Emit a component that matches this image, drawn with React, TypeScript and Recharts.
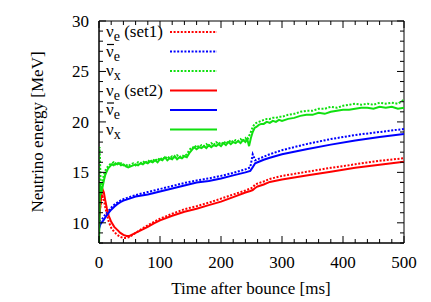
import { LineChart, Line, XAxis, YAxis, ReferenceArea, Legend } from "recharts";

// time grid (ms) for the smooth nu_e / anti-nu_e curves
const T_SMOOTH = [
  0, 2, 4, 6, 8, 10, 13, 16, 20, 25,
  30, 35, 40, 45, 50, 55, 60, 70, 80, 90,
  100, 120, 140, 160, 180, 200, 220, 240, 248, 252,
  256, 260, 270, 280, 300, 340, 380, 420, 460, 500,
];

const NUE_SET1 = [
  10.4, 11.5, 12.3, 12.6, 12.3, 11.6, 10.8, 10.1, 9.5, 9.1,
  8.8, 8.6, 8.5, 8.5, 8.6, 8.8, 9.0, 9.4, 9.75, 10.1,
  10.4, 10.9, 11.35, 11.65, 12.0, 12.4, 12.8, 13.2, 13.4, 13.5,
  13.8, 13.9, 14.1, 14.35, 14.65, 15.05, 15.45, 15.8, 16.15, 16.4,
];
const NUE_SET2 = [
  10.0, 11.6, 12.8, 13.3, 13.0, 12.3, 11.4, 10.7, 10.1, 9.6,
  9.3, 9.0, 8.8, 8.7, 8.7, 8.85, 9.0, 9.3, 9.6, 9.95,
  10.25, 10.7, 11.1, 11.4, 11.75, 12.1, 12.55, 13.0, 13.15, 13.25,
  13.45, 13.6, 13.8, 14.05, 14.3, 14.7, 15.05, 15.45, 15.75, 16.05,
];
const NUEBAR_SET1 = [
  10.2, 10.2, 10.3, 10.45, 10.6, 10.8, 11.0, 11.2, 11.5, 11.8,
  12.0, 12.2, 12.35, 12.45, 12.55, 12.65, 12.75, 12.9, 13.05, 13.2,
  13.35, 13.65, 13.95, 14.2, 14.4, 14.65, 14.95, 15.3, 15.5, 16.8,
  16.2, 16.3, 16.55, 16.8, 17.2, 17.8, 18.3, 18.7, 19.0, 19.3,
];
const NUEBAR_SET2 = [
  9.4, 9.8, 10.0, 10.15, 10.3, 10.5, 10.75, 11.0, 11.3, 11.6,
  11.85, 12.05, 12.2, 12.3, 12.4, 12.5, 12.6, 12.7, 12.8, 12.95,
  13.1, 13.4, 13.7, 14.0, 14.15, 14.4, 14.7, 15.0, 15.15, 15.5,
  15.9, 16.0, 16.25, 16.45, 16.8, 17.3, 17.75, 18.15, 18.5, 18.8,
];

// finer grid for the noisy nu_x curves
const T_NUX = [
  0, 1, 2, 3, 4, 6, 8, 10, 12, 15,
  18, 21, 24, 27, 30, 33, 36, 40, 44, 48,
  52, 56, 60, 64, 68, 72, 76, 80, 84, 88,
  92, 96, 100, 104, 108, 112, 116, 120, 124, 128,
  132, 136, 140, 144, 148, 152, 156, 160, 164, 168,
  172, 176, 180, 184, 188, 192, 196, 200, 204, 208,
  212, 216, 220, 224, 228, 232, 236, 240, 243, 246,
  249, 252, 255, 258, 262, 266, 270, 275, 280, 285,
  290, 295, 300, 310, 320, 330, 340, 350, 360, 370,
  380, 390, 400, 410, 420, 430, 440, 450, 460, 470,
  480, 490, 500,
];
const NUX_SET1 = [
  8.5, 17.5, 15.5, 13.0, 13.5, 14.2, 14.8, 15.1, 15.4, 15.6,
  15.8, 15.9, 16.0, 15.8, 16.0, 15.8, 15.9, 15.7, 15.8, 15.6,
  15.8, 15.9, 15.7, 16.0, 15.9, 16.1, 15.9, 16.2, 16.0, 16.3,
  16.1, 16.4, 16.2, 16.5, 16.3, 16.6, 16.4, 16.6, 16.5, 16.7,
  16.5, 16.7, 16.6, 16.8, 17.2, 17.5, 17.4, 17.7, 17.5, 17.7,
  17.6, 17.8, 17.6, 17.9, 17.7, 18.0, 17.8, 18.0, 17.8, 18.1,
  17.9, 18.2, 18.0, 18.2, 18.1, 18.3, 18.1, 18.4, 18.2, 18.6,
  19.0, 19.5, 19.8, 19.9, 20.0, 20.1, 20.2, 20.3, 20.3, 20.4,
  20.4, 20.5, 20.5, 20.7, 20.8, 21.0, 21.1, 21.1, 21.3, 21.3,
  21.5, 21.4, 21.6, 21.7, 21.8, 21.7, 21.8, 21.7, 21.9, 21.8,
  21.9, 21.8, 22.2,
];
const NUX_SET2 = [
  8.0, 11.5, 14.0, 12.8, 13.0, 13.6, 14.2, 14.7, 15.0, 15.4,
  15.6, 15.8, 15.7, 15.9, 15.8, 15.9, 15.7, 15.8, 15.6, 15.5,
  15.6, 15.7, 15.8, 15.7, 15.9, 15.8, 16.0, 15.9, 16.1, 16.0,
  16.2, 16.0, 16.3, 16.2, 16.5, 16.2, 16.4, 16.3, 16.6, 16.3,
  16.5, 16.4, 16.6, 16.5, 16.9, 17.2, 17.5, 17.3, 17.5, 17.4,
  17.6, 17.4, 17.7, 17.5, 17.7, 17.6, 17.8, 17.6, 17.9, 17.7,
  18.0, 17.8, 18.0, 17.9, 18.1, 17.9, 18.2, 18.0, 18.3, 17.6,
  18.4, 19.0, 19.4, 19.5, 19.7, 19.8, 19.8, 20.0, 19.9, 20.1,
  20.0, 20.2, 20.1, 20.3, 20.4, 20.6, 20.7, 20.7, 20.9, 20.8,
  21.0, 21.1, 21.2, 21.2, 21.3, 21.4, 21.4, 21.3, 21.5, 21.4,
  21.5, 21.3, 21.4,
];

const X_TICKS = Array.from({ length: 26 }, (_, i) => i * 20);
const Y_TICKS = Array.from({ length: 23 }, (_, i) => i + 8);

const TEXT = { fontFamily: "Liberation Serif, DejaVu Serif, serif", fontSize: 17, fill: "#000" };
const RED = "#ff0000";
const BLUE = "#0000ff";
const GREEN = "#10e010";
const DOT = "2 1.6";

// plot box in px
const L = 99;
const R = 404;
const TOP = 21;
const BOT = 243;

const toRows = (ts: number[], vs: number[]) => ts.map((t, i) => ({ t, v: vs[i] }));

const SERIES = [
  { key: "nue1", data: toRows(T_SMOOTH, NUE_SET1), color: RED, dash: DOT, label: "e", bar: false, note: " (set1)" },
  { key: "nueb1", data: toRows(T_SMOOTH, NUEBAR_SET1), color: BLUE, dash: DOT, label: "e", bar: true, note: "" },
  { key: "nux1", data: toRows(T_NUX, NUX_SET1), color: GREEN, dash: DOT, label: "x", bar: false, note: "" },
  { key: "nue2", data: toRows(T_SMOOTH, NUE_SET2), color: RED, dash: undefined, label: "e", bar: false, note: " (set2)" },
  { key: "nueb2", data: toRows(T_SMOOTH, NUEBAR_SET2), color: BLUE, dash: undefined, label: "e", bar: true, note: "" },
  { key: "nux2", data: toRows(T_NUX, NUX_SET2), color: GREEN, dash: undefined, label: "x", bar: false, note: "" },
];

function XTick({ x, payload }: any) {
  const v = payload.value;
  const major = v % 100 === 0;
  const len = major ? 7 : 4;
  return (
    <g>
      <line x1={x} x2={x} y1={BOT} y2={BOT - len} stroke="#000" />
      <line x1={x} x2={x} y1={TOP} y2={TOP + len} stroke="#000" />
      {major && (
        <text x={x} y={268} textAnchor="middle" style={TEXT}>
          {v}
        </text>
      )}
    </g>
  );
}

function YTick({ y, payload }: any) {
  const v = payload.value;
  const major = v % 5 === 0;
  const len = major ? 7 : 4;
  return (
    <g>
      <line x1={L} x2={L + len} y1={y} y2={y} stroke="#000" />
      <line x1={R} x2={R - len} y1={y} y2={y} stroke="#000" />
      {major && (
        <text x={89} y={y + 6} textAnchor="end" style={TEXT}>
          {v}
        </text>
      )}
    </g>
  );
}

function LegendBox() {
  return (
    <svg width={125} height={122} style={{ display: "block" }}>
      {SERIES.map((s, i) => {
        const cy = 11 + i * 19.5;
        return (
          <g key={s.key}>
            <text x={6} y={cy + 5} style={TEXT}>
              <tspan>ν</tspan>
              <tspan dy={4} style={{ fontSize: 14 }}>{s.label}</tspan>
              <tspan dy={-4}>{s.note}</tspan>
            </text>
            {s.bar && <line x1={7} x2={14} y1={cy - 7} y2={cy - 7} stroke="#000" strokeWidth={1.2} />}
            <line x1={70} x2={117} y1={cy} y2={cy} stroke={s.color} strokeWidth={2} strokeDasharray={s.dash} />
          </g>
        );
      })}
    </svg>
  );
}

export default function App() {
  return (
    <div style={{ position: "fixed", left: 0, top: 0, background: "#fff" }}>
      <LineChart width={431} height={302} margin={{ top: TOP, right: 431 - R, bottom: 0, left: 0 }}>
        <XAxis
          dataKey="t"
          type="number"
          domain={[0, 500]}
          ticks={X_TICKS}
          interval={0}
          allowDataOverflow
          height={302 - BOT}
          tickLine={false}
          axisLine={{ stroke: "#000" }}
          tick={<XTick />}
          label={{
            content: () => (
              <text x={251} y={294} textAnchor="middle" style={TEXT}>
                Time after bounce [ms]
              </text>
            ),
          }}
        />
        <YAxis
          type="number"
          domain={[8, 30]}
          ticks={Y_TICKS}
          interval={0}
          allowDataOverflow
          width={L}
          tickLine={false}
          axisLine={{ stroke: "#000" }}
          tick={<YTick />}
          label={{
            content: () => (
              <text
                transform={`translate(37, ${(TOP + BOT) / 2}) rotate(-90)`}
                textAnchor="middle"
                dy="0.35em"
                style={TEXT}
              >
                Neutrino energy [MeV]
              </text>
            ),
          }}
        />
        <ReferenceArea x1={0} x2={500} y1={8} y2={30} fill="none" stroke="#000" strokeWidth={1} ifOverflow="visible" />
        {SERIES.map((s) => (
          <Line
            key={s.key}
            data={s.data}
            dataKey="v"
            type="linear"
            stroke={s.color}
            strokeWidth={2}
            strokeDasharray={s.dash}
            dot={false}
            activeDot={false}
            isAnimationActive={false}
          />
        ))}
        <Legend
          layout="vertical"
          align="center"
          verticalAlign="middle"
          wrapperStyle={{ position: "absolute", left: L + 1, top: TOP, width: 125, height: 122 }}
          content={() => <LegendBox />}
        />
      </LineChart>
    </div>
  );
}
